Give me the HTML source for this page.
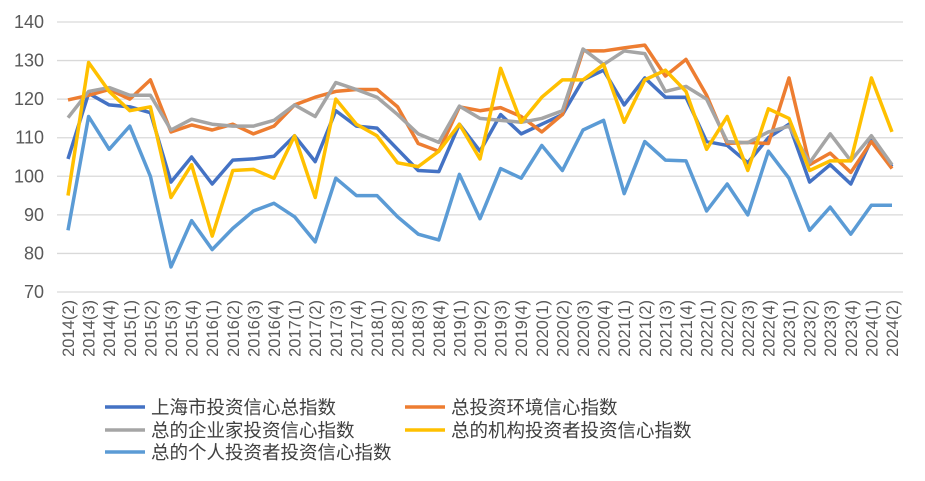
<!DOCTYPE html>
<html><head><meta charset="utf-8"><style>
body{margin:0;background:#fff;}
svg{display:block;font-family:"Liberation Sans","Noto Sans CJK SC",sans-serif;}
</style></head><body>
<svg id="c" width="925" height="481"></svg>
<script>
const categories=["2014(2)","2014(3)","2014(4)","2015(1)","2015(2)","2015(3)","2015(4)","2016(1)","2016(2)","2016(3)","2016(4)","2017(1)","2017(2)","2017(3)","2017(4)","2018(1)","2018(2)","2018(3)","2018(4)","2019(1)","2019(2)","2019(3)","2019(4)","2020(1)","2020(2)","2020(3)","2020(4)","2021(1)","2021(2)","2021(3)","2021(4)","2022(1)","2022(2)","2022(3)","2022(4)","2023(1)","2023(2)","2023(3)","2023(4)","2024(1)","2024(2)"];
const seriesNames=["上海市投资信心总指数","总投资环境信心指数","总的企业家投资信心指数","总的机构投资者投资信心指数","总的个人投资者投资信心指数"];
const totalIdx=[104.5,121.5,118.5,118,116.5,98.5,105,98,104.2,104.5,105.2,110.5,103.8,117,113,112.5,107,101.5,101.2,113.5,106.5,116,111,113.5,116,125,127.5,118.5,125.5,120.5,120.5,109,108,103.5,110,113.5,98.5,103,98,109.5,102.5];
const envIdx=[119.8,121,122.5,120,125,111.5,113.3,112,113.5,111,113,118.5,120.5,122,122.5,122.5,118,108.5,106.5,118,117,117.8,115.5,111.5,116,132.5,132.5,133.3,134,126,130.3,121,108.5,108.8,108.5,125.5,103,106,101,109,102];
const entIdx=[115.2,122,123,121,121,112,114.8,113.5,113,113,114.5,118.5,115.5,124.3,122.5,120.5,116,111,108.8,118.2,115,114.5,114,115,117,133,129,132.5,131.8,122,123.3,120,109,108.7,111.5,113,103.5,111,104,110.5,103];
const instIdx=[95,129.5,122,117,118,94.5,103,84.5,101.5,101.8,99.5,110.5,94.5,120,113.5,110.5,103.5,102.5,106.5,113.5,104.5,128,114,120.5,125,125,129,114,125,127.5,122,107,115.5,101.5,117.5,115,101.5,104,104,125.5,111.5];
const indIdx=[86,115.5,107,113,100,76.5,88.5,81,86.5,91,93,89.5,83,99.5,95,95,89.5,85,83.5,100.5,89,102,99.5,108,101.5,112,114.5,95.5,109,104.2,104,91,98,90,106.5,99.5,86,92,85,92.5,92.5];
const yTicks=[70,80,90,100,110,120,130,140];
const colors=["#4472C4","#ED7D31","#A5A5A5","#FFC000","#5B9BD5"];
const NS="http://www.w3.org/2000/svg";
const svg=document.getElementById('c');
const x0=68,x1=892,yTop=22,yBot=292,vMin=70,vMax=140;
const xs=i=>x0+(x1-x0)*i/(categories.length-1);
const ys=v=>yBot-(v-vMin)/(vMax-vMin)*(yBot-yTop);
function mk(t,a){const e=document.createElementNS(NS,t);for(const k in a)e.setAttribute(k,a[k]);svg.appendChild(e);return e;}
yTicks.forEach(v=>{
  const g=mk('line',{x1:57,x2:903,y1:ys(v),y2:ys(v),stroke:'#d9d9d9','stroke-width':1.3});
  
  
  const t=mk('text',{x:44,y:ys(v)+6,'text-anchor':'end','font-size':18,fill:'#595959'});
  t.textContent=v;
  
  
});
categories.forEach((c,i)=>{
  const t=mk('text',{transform:`translate(${xs(i)+6},300) rotate(-90)`,'text-anchor':'end','font-size':16.5,fill:'#595959'});
  t.textContent=c;
  
  
});
const allSeries=[totalIdx,envIdx,entIdx,instIdx,indIdx];
allSeries.forEach((s,k)=>{
  const p=mk('polyline',{points:s.map((v,i)=>xs(i)+','+ys(v)).join(' '),fill:'none',stroke:colors[k],'stroke-width':3.5,'stroke-linejoin':'round'});
  
  
});
const legPos=[[105,407],[405,407],[105,430],[405,430],[105,452]];
seriesNames.forEach((n,k)=>{
  const [lx,ly]=legPos[k];
  const l=mk('line',{x1:lx,x2:lx+40,y1:ly,y2:ly,stroke:colors[k],'stroke-width':3.5});
  
  
  const t=mk('text',{x:lx+46,y:ly+7,'font-size':18.5,fill:'#404040'});
  t.textContent=n;
  
  
});
</script>
</body></html>
